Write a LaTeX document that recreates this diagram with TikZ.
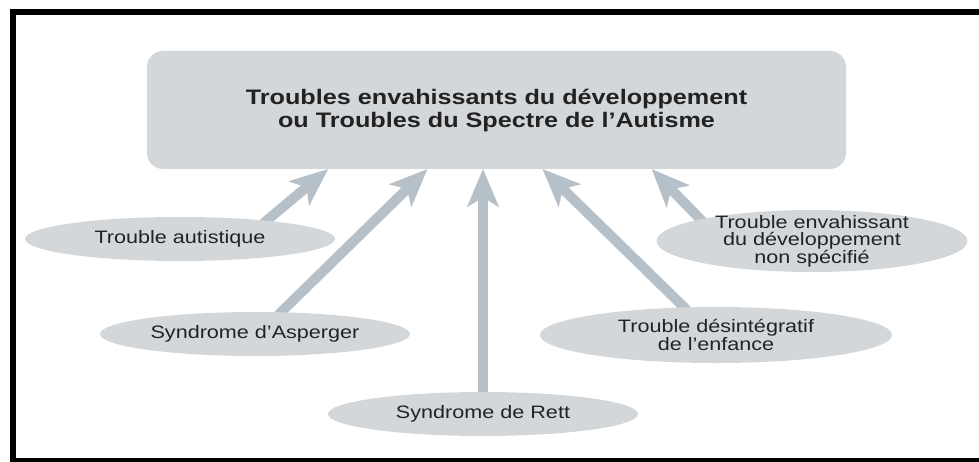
\documentclass[tikz,border=0pt]{standalone}
\usepackage{fontspec}
\setmainfont{Liberation Sans}[FakeStretch=1.2]
\usetikzlibrary{shapes.geometric,arrows.meta,calc,backgrounds}

\definecolor{boxgrey}{HTML}{D4D7DA}
\definecolor{arrowgrey}{HTML}{B5C0C9}
\definecolor{textgrey}{HTML}{222222}

\begin{document}
\begin{tikzpicture}[
        x=1pt,
        y=-1pt,
        headbox/.style={fill=boxgrey, rounded corners=16pt, minimum width=699pt, minimum height=118pt,
            text=textgrey, align=center, font=\bfseries\fontsize{21}{23}\selectfont},
        kind/.style={ellipse, fill=boxgrey, inner sep=0pt, text=textgrey, align=center,
            font=\fontsize{18}{17.5}\selectfont, minimum width=310pt, minimum height=44pt},
        link/.style={draw, color=arrowgrey, line width=10pt, shorten <=-4pt,
            -{Stealth[length=38pt, width=32pt, inset=10pt, line width=0.1pt]}}
        ]
        \useasboundingbox (0,0) rectangle (979,462);
        % frame, open on the right
        \draw[line width=6pt] (979,12.5) -- (12.5,12.5) -- (12.5,461) -- (979,461);

        \node (head) [headbox] at (496.5,110) {Troubles envahissants du développement\\ou Troubles du Spectre de l’Autisme};

        \node (autiste) [kind] at (180,239) {Trouble autistique};
        \node (asperger) [kind] at (255,334) {Syndrome d’Asperger};
        \node (rett) [kind] at (483,414) {Syndrome de Rett};
        \node (desint) [kind, minimum width=352pt, minimum height=56pt] at (716,335) {Trouble désintégratif\\de l’enfance};
        \node (nonspec) [kind, minimum width=311pt, minimum height=62pt, inner ysep=-8pt] at (812,241) {Trouble envahissant\\du développement\\non spécifié};

        % arrow tips along the bottom of the big box
        \coordinate (t1) at ($(head.south west)!0.259!(head.south east)$);
        \coordinate (t2) at ($(head.south west)!0.401!(head.south east)$);
        \coordinate (t4) at ($(head.south west)!0.566!(head.south east)$);
        \coordinate (t5) at ($(head.south west)!0.722!(head.south east)$);

        % each kind points up to the spectrum
        \begin{scope}[on background layer]
            \path[link]
            (autiste.12)    edge    (t1)
            (asperger.40)   edge    (t2)
            (rett.north)    edge    (rett.north |- head.south)
            (desint.139)    edge    (t4)
            (nonspec.169)   edge    (t5)
            ;
        \end{scope}
    \end{tikzpicture}
\end{document}
